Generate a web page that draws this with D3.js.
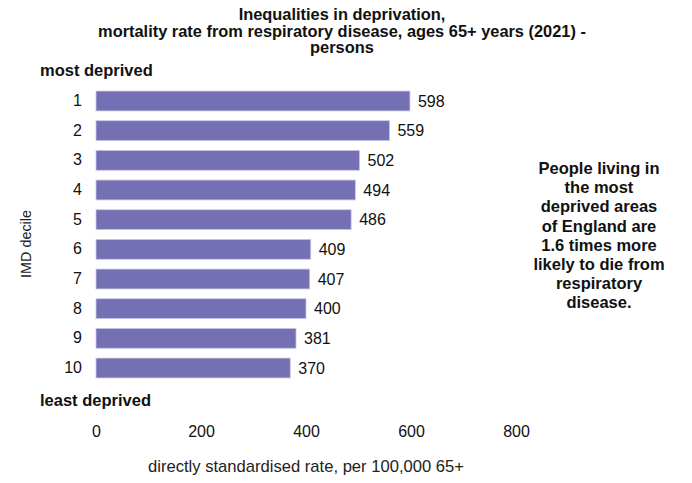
<!DOCTYPE html>
<html>
<head>
<meta charset="utf-8">
<script src="https://cdn.jsdelivr.net/npm/d3@7"></script>
<style>
  body { margin: 0; background: #fff; }
  svg { display: block; font-family: "Liberation Sans", Arial, sans-serif; }
</style>
</head>
<body>
<svg id="chart" width="692" height="483"></svg>
<script>
// IMD deciles (1 = most deprived) and mortality rates per 100,000 aged 65+
const deciles = ["1", "2", "3", "4", "5", "6", "7", "8", "9", "10"];
const rates = [598, 559, 502, 494, 486, 409, 407, 400, 381, 370];
const xTicks = [0, 200, 400, 600, 800];

const titleLines = [
  "Inequalities in deprivation,",
  "mortality rate from respiratory disease, ages 65+ years (2021) -",
  "persons"
];
const noteLines = [
  "People living in", "the most", "deprived areas", "of England are",
  "1.6 times more", "likely to die from", "respiratory", "disease."
];

const svg = d3.select("#chart");
const barColor = "#7470b3";
const font = "Liberation Sans, Arial, sans-serif";

const x = d3.scaleLinear().domain([0, 800]).range([96, 516]);
const y = d3.scaleBand().domain(deciles).range([86, 383]).paddingInner(0.33).paddingOuter(0.17);

// Title
svg.append("g").selectAll("text").data(titleLines).join("text")
  .attr("x", 342).attr("y", (d, i) => 20 + i * 16.5)
  .attr("text-anchor", "middle")
  .attr("font-size", 16.4).attr("font-weight", "bold").attr("fill", "#111")
  .text(d => d);

// Bars
svg.append("g").selectAll("rect").data(rates).join("rect")
  .attr("x", x(0))
  .attr("y", (d, i) => y(deciles[i]))
  .attr("width", d => x(d) - x(0))
  .attr("height", y.bandwidth())
  .attr("fill", barColor)
  .attr("stroke", "#c9c6e6").attr("stroke-width", 0.8);

// Value labels
svg.append("g").selectAll("text").data(rates).join("text")
  .attr("x", d => x(d) + 8)
  .attr("y", (d, i) => y(deciles[i]) + y.bandwidth() / 2)
  .attr("dy", "0.36em")
  .attr("font-size", 16).attr("fill", "#111")
  .text(d => d);

// Category axis
const yAxis = svg.append("g").attr("transform", "translate(82,0)")
  .call(d3.axisLeft(y).tickSize(0).tickPadding(0));
yAxis.select(".domain").remove();
yAxis.selectAll("text").attr("font-size", 16).attr("fill", "#111")
  .attr("font-family", font);

// Value axis
const xAxis = svg.append("g").attr("transform", "translate(0,426)")
  .call(d3.axisBottom(x).tickValues(xTicks).tickSize(0).tickPadding(0));
xAxis.select(".domain").remove();
xAxis.selectAll("text").attr("font-size", 16).attr("fill", "#111")
  .attr("font-family", font);

// Axis titles
svg.append("text").attr("x", 306).attr("y", 472)
  .attr("text-anchor", "middle").attr("font-size", 16.6).attr("fill", "#222")
  .text("directly standardised rate, per 100,000 65+");

svg.append("text")
  .attr("transform", "translate(31,244) rotate(-90)")
  .attr("text-anchor", "middle").attr("font-size", 14.4).attr("fill", "#222")
  .text("IMD decile");

// End labels of the deprivation scale
svg.append("text").attr("x", 40).attr("y", 76)
  .attr("font-size", 16.5).attr("font-weight", "bold").attr("fill", "#111")
  .text("most deprived");
svg.append("text").attr("x", 40).attr("y", 406)
  .attr("font-size", 16.5).attr("font-weight", "bold").attr("fill", "#111")
  .text("least deprived");

// Annotation
svg.append("g").selectAll("text").data(noteLines).join("text")
  .attr("x", 599).attr("y", (d, i) => 174 + i * 19.2)
  .attr("text-anchor", "middle")
  .attr("font-size", 16.5).attr("font-weight", "bold").attr("fill", "#111")
  .text(d => d);
</script>
</body>
</html>
